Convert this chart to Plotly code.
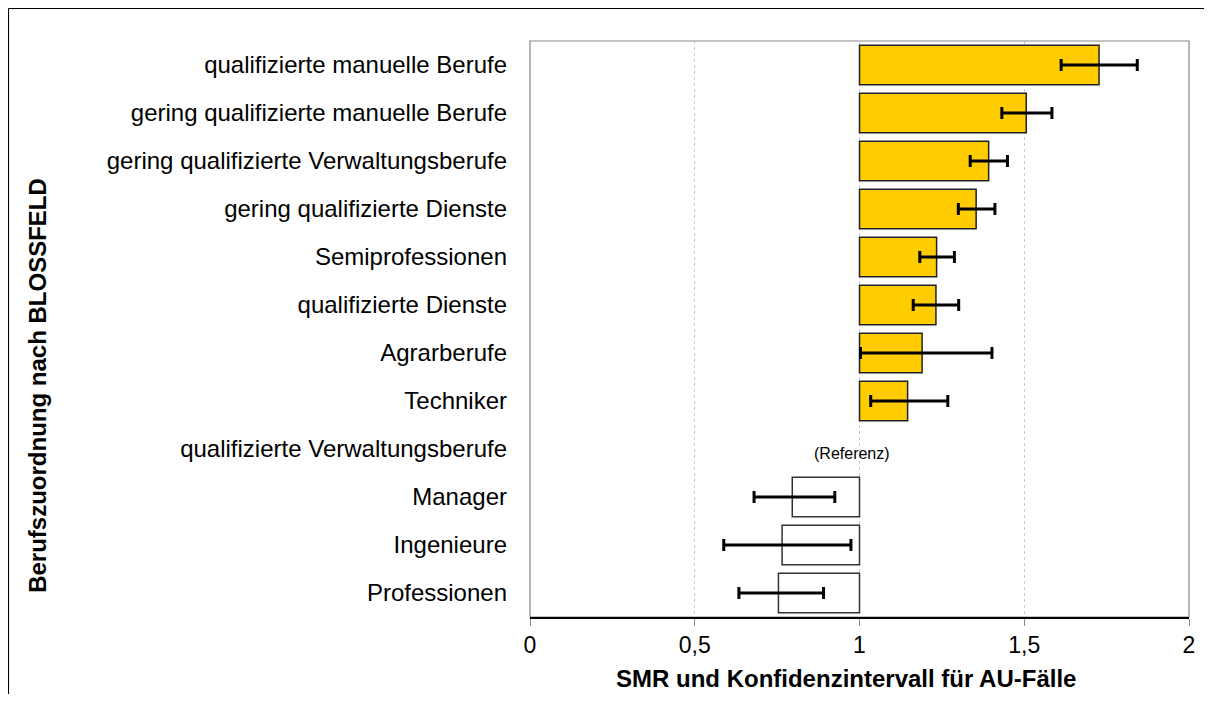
import plotly.graph_objects as go

categories = [
    "qualifizierte manuelle Berufe",
    "gering qualifizierte manuelle Berufe",
    "gering qualifizierte Verwaltungsberufe",
    "gering qualifizierte Dienste",
    "Semiprofessionen",
    "qualifizierte Dienste",
    "Agrarberufe",
    "Techniker",
    "qualifizierte Verwaltungsberufe",
    "Manager",
    "Ingenieure",
    "Professionen",
]
smr = [1.727, 1.506, 1.392, 1.354, 1.234, 1.232, 1.190, 1.146, None, 0.796, 0.765, 0.754]
ci_low = [1.612, 1.432, 1.336, 1.300, 1.183, 1.163, 1.003, 1.034, None, 0.680, 0.588, 0.634]
ci_high = [1.843, 1.584, 1.449, 1.411, 1.288, 1.301, 1.402, 1.268, None, 0.925, 0.974, 0.891]
reference_value = 1.0
reference_label = "(Referenz)"
reference_category = "qualifizierte Verwaltungsberufe"
x_ticks = [0, 0.5, 1, 1.5, 2]
x_ticklabels = ["0", "0,5", "1", "1,5", "2"]

FONT = "Liberation Sans, Arial, sans-serif"

above = [(c, s) for c, s in zip(categories, smr) if s is not None and s >= reference_value]
below = [(c, s) for c, s in zip(categories, smr) if s is not None and s < reference_value]

fig = go.Figure()
fig.add_trace(go.Bar(
    y=[c for c, s in above], x=[s - reference_value for c, s in above], base=reference_value,
    orientation="h", marker=dict(color="#FFCC00", line=dict(color="#222222", width=1.5)),
    showlegend=False, hoverinfo="skip",
))
fig.add_trace(go.Bar(
    y=[c for c, s in below], x=[s - reference_value for c, s in below], base=reference_value,
    orientation="h", marker=dict(color="#FFFFFF", line=dict(color="#333333", width=1.5)),
    showlegend=False, hoverinfo="skip",
))
ec = [c for c, s in zip(categories, smr) if s is not None]
es = [s for s in smr if s is not None]
eh = [h - s for s, h in zip(smr, ci_high) if s is not None]
el = [s - l for s, l in zip(smr, ci_low) if s is not None]
fig.add_trace(go.Scatter(
    y=ec, x=es, mode="markers", marker=dict(size=0.1, color="rgba(0,0,0,0)"),
    error_x=dict(type="data", array=eh, arrayminus=el, color="#000000", thickness=3, width=6),
    showlegend=False, hoverinfo="skip",
))

fig.add_annotation(
    x=0.978, y=reference_category, yshift=-4, text=reference_label, showarrow=False,
    font=dict(family=FONT, size=16, color="#000000"), xanchor="center", yanchor="middle",
)
fig.add_annotation(
    x=0.48, y=-0.1076, xref="paper", yref="paper", text="<b>SMR und Konfidenzintervall für AU-Fälle</b>",
    showarrow=False, font=dict(family=FONT, size=24, color="#000000"), xanchor="center", yanchor="middle",
)
fig.add_annotation(
    x=-0.7466, y=0.403, xref="paper", yref="paper", text="<b>Berufszuordnung nach BLOSSFELD</b>",
    textangle=-90, showarrow=False, font=dict(family=FONT, size=24, color="#000000"),
    xanchor="center", yanchor="middle",
)

# plot area frame (grey) and outer chart frame (black, only left and top visible)
fig.add_shape(type="rect", xref="paper", yref="paper", x0=0, x1=1, y0=0, y1=1,
              line=dict(color="#888888", width=1.2), layer="below")
fig.add_shape(type="line", xref="paper", yref="paper", x0=-0.7914, x1=1.3, y0=1.0564, y1=1.0564,
              line=dict(color="#000000", width=1.2), layer="below")
fig.add_shape(type="line", xref="paper", yref="paper", x0=-0.7914, x1=-0.7914, y0=-0.4, y1=1.0564,
              line=dict(color="#000000", width=1.2), layer="below")

fig.update_layout(
    width=1204, height=686,
    margin=dict(l=522, r=23, t=33, b=77),
    paper_bgcolor="#FFFFFF", plot_bgcolor="#FFFFFF",
    barmode="overlay", bargap=0.175,
    font=dict(family=FONT, size=24, color="#000000"),
    xaxis=dict(
        range=[0, 2], tickvals=x_ticks, ticktext=x_ticklabels,
        showgrid=True, gridcolor="#C8C8C8", griddash="dot", gridwidth=1,
        showline=True, linecolor="#000000", linewidth=1.5,
        ticks="outside", ticklen=7, tickcolor="#888888", tickwidth=1,
        tickfont=dict(size=23), zeroline=False, fixedrange=True,
    ),
    yaxis=dict(
        categoryorder="array", categoryarray=categories,
        range=[len(categories) - 0.5, -0.5],
        showgrid=False, showline=False, ticks="", ticklabelstandoff=22,
        tickfont=dict(size=24), zeroline=False, fixedrange=True,
    ),
)

fig.write_html("out.html")
